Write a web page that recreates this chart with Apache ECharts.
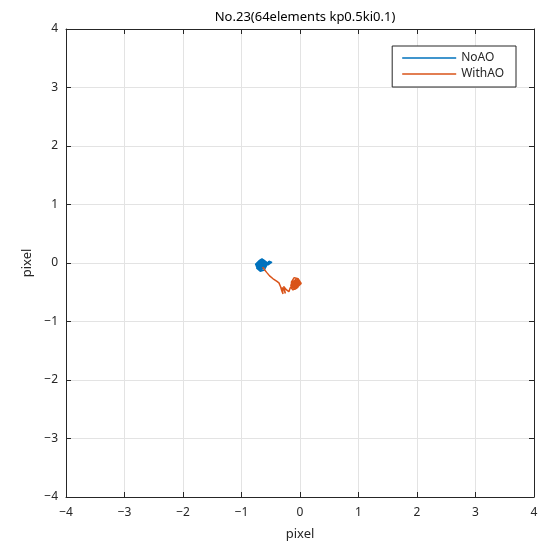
<!DOCTYPE html>
<html>
<head>
<meta charset="utf-8">
<script src="https://cdn.jsdelivr.net/npm/echarts@6/dist/echarts.min.js"></script>
<style>html,body{margin:0;padding:0;background:#fff}#c{width:547px;height:543px}</style>
</head>
<body>
<div id="c"></div>
<script>
var titleText = 'No.23(64elements kp0.5ki0.1)';
var xTicks = [-4,-3,-2,-1,0,1,2,3,4];
var yTicks = [-4,-3,-2,-1,0,1,2,3,4];
var seriesNames = ['NoAO','WithAO'];

var noAOx = [-0.66,-0.70,-0.64,-0.72,-0.68,-0.61,-0.66,-0.74,-0.69,-0.63,-0.58,-0.62,-0.67,-0.71,-0.65,-0.60,-0.55,-0.52,-0.57,-0.63,-0.69,-0.73,-0.68,-0.62,-0.66,-0.71,-0.64,-0.59,-0.63,-0.68,-0.72,-0.66,-0.61,-0.65,-0.70,-0.67,-0.62,-0.56,-0.50,-0.54,-0.60,-0.65,-0.69,-0.64,-0.67,
  -0.73,-0.76,-0.70,-0.65,-0.60,-0.57,-0.61,-0.68,-0.74,-0.71,-0.66,-0.62,-0.58,-0.53,-0.48,-0.55,-0.63,-0.70,-0.75,-0.69,-0.64];
var noAOy = [-0.04,-0.01,0.03,-0.06,-0.10,-0.05,0.00,-0.03,0.05,0.01,-0.02,-0.08,-0.12,-0.07,-0.02,0.02,0.00,-0.01,0.03,0.06,0.02,-0.04,-0.09,-0.06,-0.11,-0.07,-0.03,0.01,0.04,0.00,-0.05,-0.08,-0.03,0.03,0.01,-0.06,-0.02,0.01,0.00,-0.03,-0.01,-0.05,-0.02,-0.07,-0.04,
  -0.08,-0.02,0.04,0.07,0.03,-0.04,-0.12,-0.14,-0.09,-0.01,0.05,0.02,-0.06,0.03,0.01,-0.02,-0.07,-0.10,-0.05,-0.13,-0.08];

var withAOx = [-0.64,-0.61,-0.57,-0.52,-0.46,-0.40,-0.36,-0.33,-0.31,-0.29,-0.31,-0.27,-0.25,-0.28,-0.23,-0.19,-0.17,-0.14,
  -0.10,-0.05,-0.13,-0.02,-0.08,-0.15,-0.09,0.00,-0.06,-0.12,-0.03,-0.09,-0.16,-0.05,0.01,-0.08,-0.13,-0.06,-0.02,-0.11,-0.04,-0.09,-0.01,-0.12,-0.07,
  -0.16,-0.12,-0.05,0.02,-0.03,-0.10,-0.15,-0.07,-0.01,-0.06,-0.13,-0.09];
var withAOy = [-0.07,-0.11,-0.16,-0.22,-0.27,-0.31,-0.34,-0.41,-0.48,-0.53,-0.42,-0.47,-0.52,-0.40,-0.46,-0.49,-0.43,-0.40,
  -0.36,-0.32,-0.39,-0.37,-0.29,-0.35,-0.43,-0.33,-0.27,-0.32,-0.41,-0.45,-0.38,-0.30,-0.36,-0.33,-0.42,-0.37,-0.28,-0.35,-0.40,-0.31,-0.36,-0.38,-0.34,
  -0.41,-0.46,-0.42,-0.35,-0.27,-0.25,-0.33,-0.40,-0.30,-0.44,-0.37,-0.31];

function zip(a,b){var r=[];for(var i=0;i<a.length;i++)r.push([a[i],b[i]]);return r;}
function fmt(v){return String(v).replace('-','\u2212');}

var FONT = '"Noto Sans", sans-serif';
var axisCol = '#262626';

function mkAxis(pos, labels, gap){
  return {type:'value', position:pos, min:-4, max:4, interval:1,
    name: labels ? 'pixel' : '', nameLocation:'middle', nameGap:gap,
    nameTextStyle:{color:axisCol,fontSize:13,fontFamily:FONT},
    axisLine:{show:true,onZero:false,lineStyle:{color:axisCol,width:1}},
    axisTick:{show:true,inside:true,length:5,lineStyle:{color:axisCol}},
    axisLabel:{show:labels,color:axisCol,fontSize:12,fontFamily:FONT,margin:labels&&(pos==='bottom')?10:8,formatter:fmt},
    splitLine:{show:labels,lineStyle:{color:'#e3e3e3',width:1}}};
}

var chart = echarts.init(document.getElementById('c'), null, {renderer:'canvas'});
chart.setOption({
  animation:false,
  backgroundColor:'#fff',
  title:{text:titleText,left:300,textAlign:'center',top:6,
    textStyle:{fontSize:13,fontWeight:'normal',color:'#000',fontFamily:FONT}},
  grid:{left:66,top:29,width:468,height:468,containLabel:false,outerBoundsMode:'none'},
  legend:{data:seriesNames,orient:'vertical',right:31,top:46,icon:'rect',
    backgroundColor:'#fff',borderColor:axisCol,borderWidth:1,borderRadius:0,
    padding:[5,12,6,10],itemGap:2,itemWidth:54,itemHeight:1.3,
    textStyle:{color:axisCol,fontSize:12,fontFamily:FONT,lineHeight:14}},
  xAxis:[mkAxis('bottom',true,31), mkAxis('top',false,0)],
  yAxis:[mkAxis('left',true,30), mkAxis('right',false,0)],
  series:[
    {name:seriesNames[0],type:'line',data:zip(noAOx,noAOy),symbol:'none',showSymbol:false,
      xAxisIndex:0,yAxisIndex:0,lineStyle:{color:'#0072BD',width:1.5},itemStyle:{color:'#0072BD'}},
    {name:seriesNames[1],type:'line',data:zip(withAOx,withAOy),symbol:'none',showSymbol:false,
      xAxisIndex:0,yAxisIndex:0,lineStyle:{color:'#D95319',width:1.5},itemStyle:{color:'#D95319'}}
  ]
});
</script>
</body>
</html>
